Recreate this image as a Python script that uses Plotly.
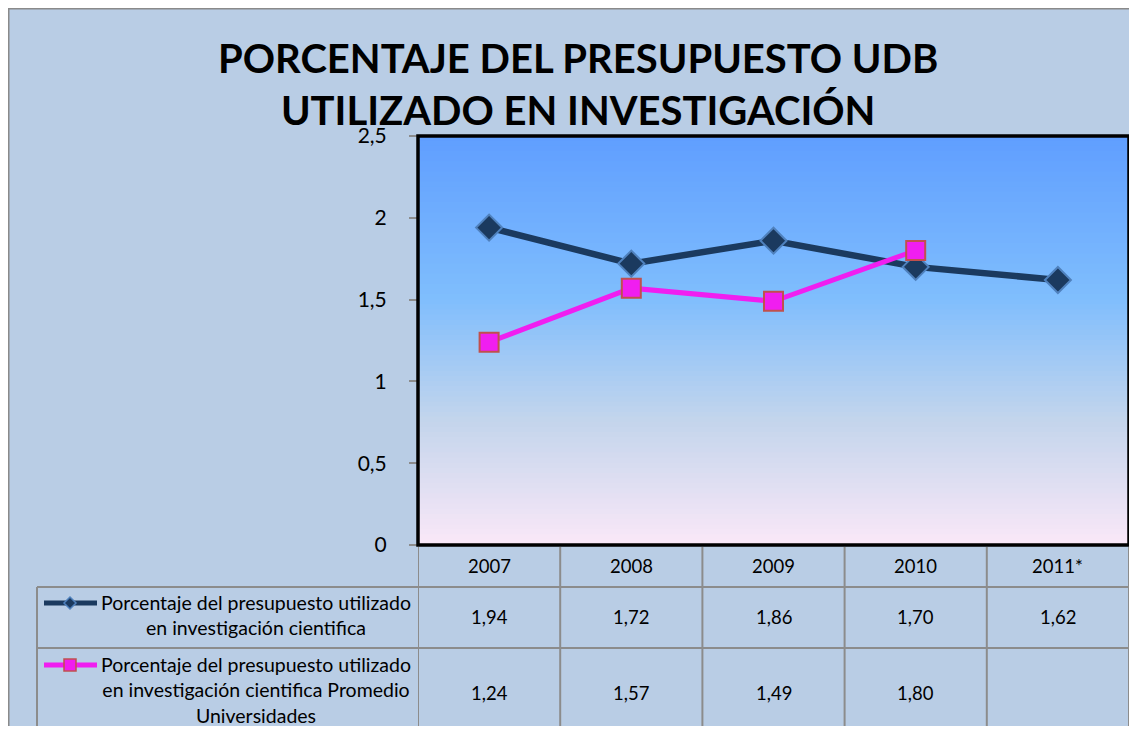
import plotly.graph_objects as go

# page offset of the figure and its size (keeps page inside the window)
OX, OY = 8, 8
W, H = 1121, 718

years = ['2007', '2008', '2009', '2010', '2011*']
udb = [1.94, 1.72, 1.86, 1.70, 1.62]
promedio = [1.24, 1.57, 1.49, 1.80, None]
y_ticks = [0, 0.5, 1, 1.5, 2, 2.5]

name_udb = 'Porcentaje del presupuesto utilizado<br>en investigación cientifica'
name_prom = ('Porcentaje del presupuesto utilizado<br>en investigación cientifica Promedio'
             '<br>Universidades')

navy = '#1b3a5f'
magenta = '#f01ef0'
grid = '#8c8c8c'
FONT = 'Lato'


def px(x):
    return (x - OX) / W


def py(y):
    return 1 - (y - OY) / H


def fmt(v):
    return '' if v is None else '{:.2f}'.format(v).replace('.', ',')


fig = go.Figure()
fig.add_trace(go.Scatter(x=years, y=udb, mode='lines+markers', name='udb',
                         line={'color': navy, 'width': 6.5},
                         marker={'symbol': 'diamond', 'size': 20, 'color': navy,
                                 'line': {'color': '#4f81bd', 'width': 2}}))
fig.add_trace(go.Scatter(x=years, y=promedio, mode='lines+markers', name='promedio',
                         line={'color': magenta, 'width': 5},
                         marker={'symbol': 'square', 'size': 19, 'color': magenta,
                                 'line': {'color': '#c0504d', 'width': 2}}))

shapes = []
# chart background
shapes.append(dict(type='rect', xref='paper', yref='paper', x0=0, x1=1, y0=0, y1=1,
                   fillcolor='#b9cde5', line={'width': 0}, layer='below'))
shapes.append(dict(type='line', xref='paper', yref='paper', x0=0, x1=1, y0=1, y1=1,
                   line={'color': '#8a8a8a', 'width': 3}, layer='below'))
shapes.append(dict(type='line', xref='paper', yref='paper', x0=0, x1=0, y0=0, y1=1,
                   line={'color': '#8a8a8a', 'width': 3}, layer='below'))

# gradient in plot area
stops = [(0.0, (95, 158, 255)), (0.4, (128, 190, 253)), (0.7, (196, 213, 236)),
         (1.0, (250, 232, 248))]
n = 80
for i in range(n):
    t = (i + 0.5) / n
    for (a, ca), (b, cb) in zip(stops[:-1], stops[1:]):
        if a <= t <= b:
            f = (t - a) / (b - a)
            c = tuple(round(ca[k] + (cb[k] - ca[k]) * f) for k in range(3))
            break
    shapes.append(dict(type='rect', xref='x domain', yref='y domain', x0=0, x1=1,
                       y0=1 - (i + 1) / n - 0.001, y1=1 - i / n + 0.001,
                       fillcolor='rgb({},{},{})'.format(*c), line={'width': 0},
                       layer='below'))

# plot frame
shapes.append(dict(type='rect', xref='x domain', yref='y domain', x0=0, x1=1, y0=0, y1=1,
                   line={'color': 'black', 'width': 3.5}))

# data table grid
for k in range(len(years) + 1):
    shapes.append(dict(type='line', xref='x', yref='paper', x0=k - 0.5, x1=k - 0.5,
                       y0=0, y1=py(547), line={'color': grid, 'width': 2}))
for yy in (587, 648):
    shapes.append(dict(type='line', xref='paper', yref='paper', x0=px(37), x1=1,
                       y0=py(yy), y1=py(yy), line={'color': grid, 'width': 2}))
shapes.append(dict(type='line', xref='paper', yref='paper', x0=px(37), x1=px(37),
                   y0=0, y1=py(587), line={'color': grid, 'width': 2}))

# legend keys inside the table
shapes.append(dict(type='line', xref='paper', yref='paper', x0=px(44), x1=px(97),
                   y0=py(603), y1=py(603), line={'color': navy, 'width': 5}))
shapes.append(dict(type='path', xref='paper', yref='paper',
                   path='M {} {} L {} {} L {} {} L {} {} Z'.format(
                       px(64), py(603), px(70), py(597), px(76), py(603), px(70), py(609)),
                   fillcolor=navy, line={'color': '#4f81bd', 'width': 1.5}))
shapes.append(dict(type='line', xref='paper', yref='paper', x0=px(44), x1=px(97),
                   y0=py(665), y1=py(665), line={'color': magenta, 'width': 5}))
shapes.append(dict(type='rect', xref='paper', yref='paper', x0=px(64), x1=px(76),
                   y0=py(671), y1=py(659), fillcolor=magenta,
                   line={'color': '#c0504d', 'width': 1.5}))

annotations = [dict(text='PORCENTAJE DEL PRESUPUESTO UDB<br>UTILIZADO EN INVESTIGACIÓN',
                    xref='paper', yref='paper', x=px(578), y=py(84), showarrow=False,
                    font={'family': FONT, 'size': 40, 'color': 'black', 'weight': 'bold'},
                    xanchor='center', yanchor='middle')]

cell = dict(xref='x', yref='paper', showarrow=False, xanchor='center', yanchor='middle',
            font={'family': FONT, 'size': 18.5})
for i, yr in enumerate(years):
    annotations.append(dict(cell, text=yr, x=i, y=py(566)))
    annotations.append(dict(cell, text=fmt(udb[i]), x=i, y=py(617)))
    annotations.append(dict(cell, text=fmt(promedio[i]), x=i, y=py(693)))

annotations.append(dict(text=name_udb, xref='paper', yref='paper', x=px(256), y=py(615),
                        showarrow=False, align='center', xanchor='center', yanchor='middle',
                        font={'family': FONT, 'size': 19.5}))
annotations.append(dict(text=name_prom, xref='paper', yref='paper', x=px(256), y=py(690),
                        showarrow=False, align='center', xanchor='center', yanchor='middle',
                        font={'family': FONT, 'size': 19.5}))

fig.update_layout(
    width=W, height=H,
    margin={'l': 0, 'r': 0, 't': 0, 'b': 0, 'pad': 0, 'autoexpand': False},
    paper_bgcolor='white', plot_bgcolor='rgba(0,0,0,0)',
    separators=',.',
    showlegend=False,
    font={'family': FONT, 'color': 'black'},
    shapes=shapes, annotations=annotations,
    xaxis={'domain': [px(418), min(1, px(1134))], 'type': 'category', 'range': [-0.5, 4.5],
           'showticklabels': False, 'showgrid': False, 'zeroline': False,
           'showline': False, 'ticks': '', 'automargin': False},
    yaxis={'domain': [py(545), py(136)], 'range': [0, 2.5], 'tickvals': y_ticks,
           'showgrid': False, 'zeroline': False, 'showline': False, 'automargin': False,
           'ticks': 'outside', 'ticklen': 8, 'tickwidth': 2, 'tickcolor': grid,
           'ticklabelstandoff': 18, 'tickfont': {'family': FONT, 'size': 21}},
)

fig.write_html('out.html')
